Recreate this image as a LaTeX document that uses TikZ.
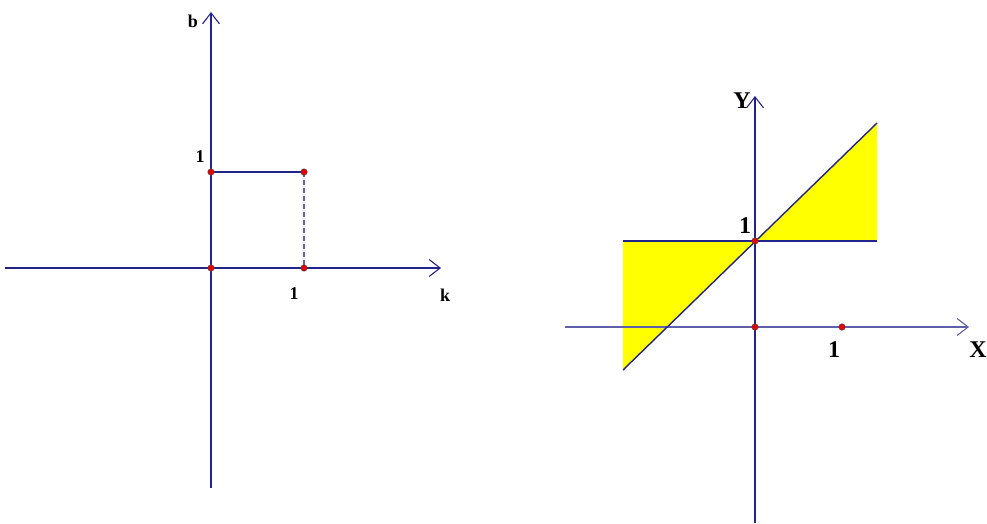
\documentclass[tikz,border=0pt]{standalone}
\usepackage{fontspec}
\setmainfont{Liberation Serif}[BoldFont={Liberation Serif Bold}]
\usetikzlibrary{arrows.meta}
\definecolor{axisblue}{RGB}{35,35,140}
\definecolor{lightaxis}{RGB}{95,95,170}
\definecolor{dotred}{RGB}{230,0,0}
\definecolor{fillyellow}{RGB}{255,255,0}
\tikzset{
  axis/.style={draw=axisblue, line width=1.1pt, -{Straight Barb[length=11pt,width=17pt,line width=1.1pt]}},
  laxis/.style={draw=lightaxis, line width=1.2pt, -{Straight Barb[length=11pt,width=17pt,line width=1.1pt]}},
  seg/.style={draw=axisblue, line width=1.2pt},
  dseg/.style={draw=lightaxis, line width=1.2pt, dash pattern=on 5pt off 3pt},
  dot/.style={circle, fill=dotred, draw=black!70, line width=0.5pt, inner sep=0pt, minimum size=6.5pt},
  lblS/.style={font=\bfseries\fontsize{18}{18}\selectfont, inner sep=0pt},
  lblL/.style={font=\bfseries\fontsize{24}{24}\selectfont, inner sep=0pt},
}
\begin{document}
\begin{tikzpicture}[x=1pt,y=-1pt]
\useasboundingbox (0,0) rectangle (987,523);
% ---------- left diagram ----------
\coordinate (kL) at (5,268);
\coordinate (kR) at (441,268);
\coordinate (bB) at (211,488);
\coordinate (bT) at (211,12);
\coordinate (O1) at (211,268);
\coordinate (A1) at (304,268);
\coordinate (B1) at (211,172);
\coordinate (C1) at (304,172);
\draw[axis] (kL) -- (kR);
\draw[axis] (bB) -- (bT);
\draw[seg] (B1) -- (C1);
\draw[dseg] (C1) -- (A1);
\foreach \p in {O1,A1,B1,C1} \node[dot] at (\p) {};
\node[lblS] (lb) at (193,21) {b};
\node[lblS] (l1a) at (200,157) {1};
\node[lblS] (l1b) at (294,294) {1};
\node[lblS] (lk) at (445,295) {k};
% ---------- right diagram ----------
\coordinate (xL) at (565,327);
\coordinate (xR) at (969,327);
\coordinate (yB) at (755,523);
\coordinate (yT) at (755,96);
\coordinate (O2) at (755,327);
\coordinate (A2) at (842,327);
\coordinate (P) at (755,241);
\coordinate (HL) at (623,241);
\coordinate (HR) at (877,241);
\coordinate (DL) at (623,370);
\coordinate (DR) at (877,123);
\fill[fillyellow] (HL) -- (P) -- (DL) -- cycle;
\fill[fillyellow] (P) -- (HR) -- (DR) -- cycle;
\draw[laxis] (xL) -- (xR);
\draw[axis] (yB) -- (yT);
\draw[seg] (HL) -- (HR);
\draw[seg, line width=1.4pt] (DL) -- (DR);
\foreach \p in {O2,A2,P} \node[dot] at (\p) {};
\node[lblL] (lY) at (742,101) {Y};
\node[lblL] (l1c) at (745,226) {1};
\node[lblL] (l1d) at (834,350) {1};
\node[lblL] (lX) at (978,350) {X};
\end{tikzpicture}
\end{document}
